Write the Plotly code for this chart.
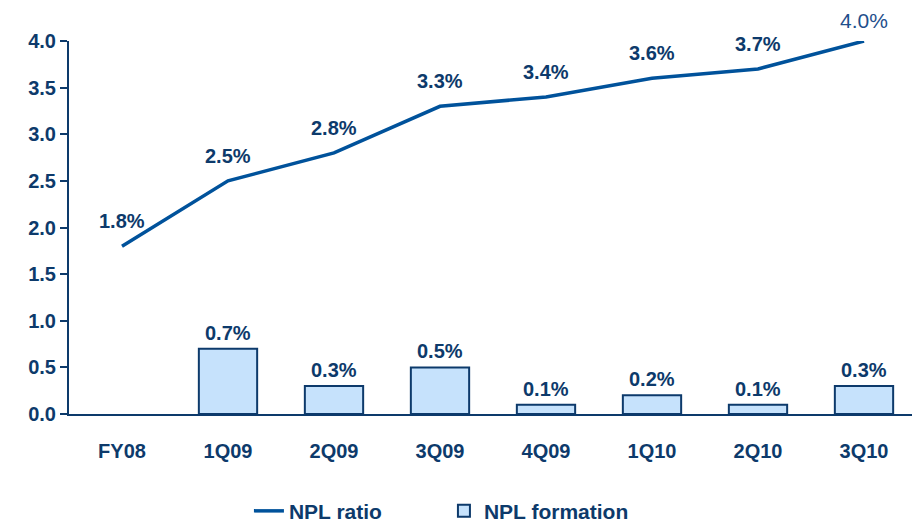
"""NPL ratio vs NPL formation, line + bar combo chart"""
import plotly.graph_objects as go

# Data
quarters = ['FY08', '1Q09', '2Q09', '3Q09', '4Q09', '1Q10', '2Q10', '3Q10']
npl_ratio = [1.8, 2.5, 2.8, 3.3, 3.4, 3.6, 3.7, 4.0]
npl_formation = [None, 0.7, 0.3, 0.5, 0.1, 0.2, 0.1, 0.3]
y_ticks = [0.0, 0.5, 1.0, 1.5, 2.0, 2.5, 3.0, 3.5, 4.0]

NAVY = '#0d3a6b'
LINE_BLUE = '#00529b'
BAR_FILL = '#c6e2fc'
FONT = 'Arial, Liberation Sans, sans-serif'
FS = 20

fig = go.Figure()

fig.add_trace(go.Scatter(
    x=quarters, y=npl_ratio,
    mode='lines',
    name='<b>NPL ratio</b>',
    line=dict(color=LINE_BLUE, width=3.5),
))

fig.add_trace(go.Bar(
    x=quarters, y=npl_formation,
    name='<b>NPL formation</b>',
    marker=dict(color=BAR_FILL, line=dict(color=NAVY, width=2)),
    width=0.55,
))

# Value labels: the last ratio label is plain, the rest bold
annotations = []
for i, (q, v) in enumerate(zip(quarters, npl_ratio)):
    last = i == len(npl_ratio) - 1
    annotations.append(dict(
        x=q, y=v, xref='x', yref='y',
        text=f'{v:.1f}%' if last else f'<b>{v:.1f}%</b>',
        showarrow=False, yanchor='middle', yshift=21 if last else 25,
        font=dict(size=21 if last else FS, color='#1f4f8c' if last else NAVY, family=FONT),
    ))
for q, v in zip(quarters, npl_formation):
    if v is None:
        continue
    annotations.append(dict(
        x=q, y=v, xref='x', yref='y',
        text=f'<b>{v:.1f}%</b>',
        showarrow=False, yanchor='middle', yshift=16,
        font=dict(size=FS, color=NAVY, family=FONT),
    ))

# page body adds an 8px margin, so the figure is sized to fit the window
fig.update_layout(
    width=912, height=514,
    margin=dict(l=61, r=3, t=33, b=108),
    plot_bgcolor='white',
    paper_bgcolor='white',
    font=dict(family=FONT, color=NAVY, size=FS),
    showlegend=True,
    legend=dict(
        orientation='h',
        xref='container', yref='container',
        x=0.478, y=0.021, xanchor='center', yanchor='middle',
        font=dict(size=21, color=NAVY),
        entrywidth=150,
        traceorder='normal',
    ),
    annotations=annotations,
)

fig.update_xaxes(
    type='category',
    showgrid=False,
    showline=True, linecolor=NAVY, linewidth=2,
    ticks='', ticklabelstandoff=18,
    tickfont=dict(size=FS, color=NAVY),
    tickprefix='<b>', ticksuffix='</b>',
    zeroline=False,
)

fig.update_yaxes(
    range=[0, 4.0],
    tickvals=y_ticks,
    ticktext=[f'<b>{v:.1f}</b>' for v in y_ticks],
    showgrid=False,
    showline=True, linecolor=NAVY, linewidth=2,
    ticks='outside', ticklen=7, tickcolor=NAVY, tickwidth=2,
    tickfont=dict(size=FS, color=NAVY),
    zeroline=False,
)

fig.write_html("out.html")
